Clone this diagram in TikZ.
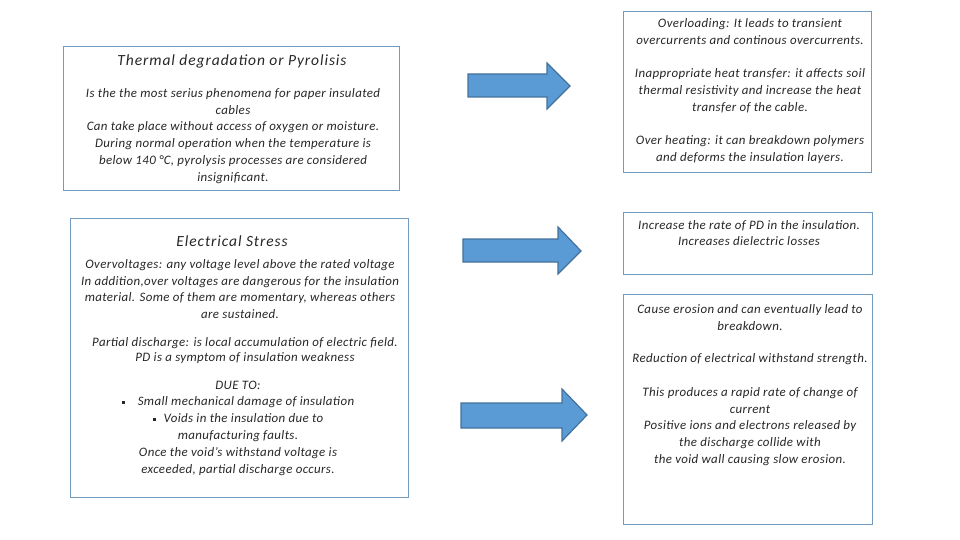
\documentclass[tikz,border=0pt]{standalone}
\usepackage{fontspec}
\setmainfont{Carlito}
\newfontfamily\bodyfont[LetterSpace=3]{Carlito}
\newfontfamily\titlefont[LetterSpace=6]{Carlito}
\definecolor{boxline}{HTML}{6F9CC0}
\definecolor{arrowfill}{HTML}{5B9BD5}
\definecolor{arrowline}{HTML}{41719C}
\newcommand{\mybul}{\raisebox{0.3ex}{\rule{3pt}{3pt}}}
\tikzset{
  txtbox/.style={draw=boxline, line width=0.8pt},
  body/.style={font=\bodyfont\fontsize{12.9}{16.8}\selectfont\itshape, align=center, inner sep=0pt, text=black!85},
  ttl/.style={font=\titlefont\fontsize{15.5}{18}\selectfont\itshape, align=center, inner sep=0pt, text=black!85},
  blockarrow/.style={fill=arrowfill, draw=arrowline, line width=1.2pt, line join=miter}
}
\begin{document}
\begin{tikzpicture}[x=1pt,y=-1pt]
\useasboundingbox (0,0) rectangle (960,540);
% boxes
\draw[txtbox] (63,46) rectangle (399,190);
\draw[txtbox] (70,218) rectangle (408,497);
\draw[txtbox] (623,11) rectangle (871,172);
\draw[txtbox] (623,212) rectangle (872,274);
\draw[txtbox] (623,294) rectangle (872,524);
% left box 1
\node[ttl] (t1) at (232,61) {Thermal degradation or Pyrolisis};
\node[body] (b1) at (233,136) {Is the the most serius phenomena for paper insulated\\cables\\Can take place without access of oxygen or moisture.\\During normal operation when the temperature is\\below 140 °C, pyrolysis processes are considered\\insignificant.};
% left box 2
\node[ttl] (t2) at (232,241) {Electrical Stress};
\node[body] (b2) at (240,289) {Overvoltages: any voltage level above the rated voltage\\In addition,over voltages are dangerous for the insulation\\material. Some of them are momentary, whereas others\\are sustained.};
\node[body, font=\bodyfont\fontsize{12.9}{15.2}\selectfont\itshape] (b3) at (245,350.5) {Partial discharge: is local accumulation of electric field.\\PD is a symptom of insulation weakness};
\node[body] (b4) at (238,428) {DUE TO:\\\mybul\hspace{13pt}Small mechanical damage of insulation\\\mybul\hspace{8pt}Voids in the insulation due to\\manufacturing faults.\\Once the void’s withstand voltage is\\exceeded, partial discharge occurs.};
% right box 1
\node[body] (r1) at (750,31.5) {Overloading: It leads to transient\\overcurrents and continous overcurrents.};
\node[body] (r2) at (750,90.5) {Inappropriate heat transfer: it affects soil\\thermal resistivity and increase the heat\\transfer of the cable.};
\node[body] (r3) at (750,149.5) {Over heating: it can breakdown polymers\\and deforms the insulation layers.};
% right box 2
\node[body] (r4) at (749,233) {Increase the rate of PD in the insulation.\\Increases dielectric losses};
% right box 3
\node[body] (r5) at (750,317.5) {Cause erosion and can eventually lead to\\breakdown.};
\node[body] (r6) at (750,359) {Reduction of electrical withstand strength.};
\node[body] (r7) at (750,426.5) {This produces a rapid rate of change of\\current\\Positive ions and electrons released by\\the discharge collide with\\the void wall causing slow erosion.};
% arrows
\draw[blockarrow] (468,74) -- (547,74) -- (547,63) -- (570,86) -- (547,109) -- (547,97) -- (468,97) -- cycle;
\draw[blockarrow] (463,239) -- (558,239) -- (558,227) -- (581,251) -- (558,274) -- (558,262) -- (463,262) -- cycle;
\draw[blockarrow] (461,403) -- (562,403) -- (562,389) -- (587,415) -- (562,441) -- (562,428) -- (461,428) -- cycle;
\end{tikzpicture}
\end{document}
